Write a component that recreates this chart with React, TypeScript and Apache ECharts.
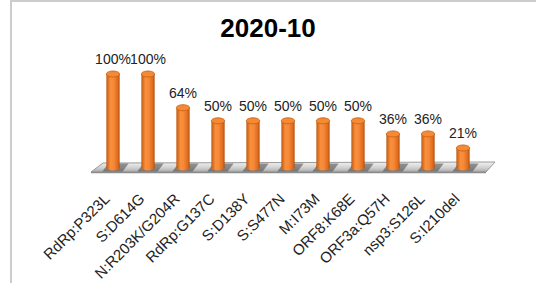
import React, { useEffect, useRef } from "react";
import * as echarts from "echarts";

const titleText = "2020-10";
const categories = [
  "RdRp:P323L",
  "S:D614G",
  "N:R203K/G204R",
  "RdRp:G137C",
  "S:D138Y",
  "S:S477N",
  "M:I73M",
  "ORF8:K68E",
  "ORF3a:Q57H",
  "nsp3:S126L",
  "S:I210del",
];
const values = [100, 100, 64, 50, 50, 50, 50, 50, 36, 36, 21];

const FONT = "'Liberation Sans', Arial, sans-serif";

export default function App() {
  const ref = useRef<HTMLDivElement>(null);
  useEffect(() => {
    if (!ref.current) return;
    const chart = echarts.init(ref.current, null, { renderer: "svg" });
    const bodyFill = {
      type: "linear",
      x: 0,
      y: 0,
      x2: 1,
      y2: 0,
      colorStops: [
        { offset: 0, color: "#c05a12" },
        { offset: 0.3, color: "#f88f3c" },
        { offset: 0.55, color: "#f7893a" },
        { offset: 0.85, color: "#de6c1d" },
        { offset: 1, color: "#b4500e" },
      ],
    };
    chart.setOption({
      animation: false,
      backgroundColor: "#ffffff",
      title: {
        text: titleText,
        left: "center",
        top: 10,
        textStyle: { fontSize: 26, fontWeight: "bold", color: "#000", fontFamily: FONT },
      },
      grid: { left: 95.5, right: 55.5, top: 74, bottom: 115 },
      xAxis: {
        type: "category",
        data: categories,
        axisLine: { show: false },
        axisTick: { show: false },
        splitLine: { show: false },
        axisLabel: {
          interval: 0,
          rotate: 45,
          margin: 22,
          fontSize: 15,
          color: "#222",
          fontFamily: FONT,
          padding: [0, 9, 0, 0],
        },
      },
      yAxis: { type: "value", min: 0, max: 100, show: false },
      graphic: [
        {
          type: "polygon",
          z: 1,
          shape: { points: [[91, 172], [103, 163], [495, 162], [486, 172]] },
          style: {
            fill: {
              type: "linear",
              x: 0,
              y: 0,
              x2: 0,
              y2: 1,
              colorStops: [
                { offset: 0, color: "#f2f2f2" },
                { offset: 0.6, color: "#cfcfcf" },
                { offset: 1, color: "#a8a8a8" },
              ],
            },
            stroke: "#9a9a9a",
            lineWidth: 1,
          },
        },
        {
          type: "line",
          z: 1,
          shape: { x1: 91, y1: 172.5, x2: 486, y2: 172.5 },
          style: { stroke: "#8c8c8c", lineWidth: 1.5 },
        },
        {
          type: "line",
          z: 1,
          shape: { x1: 11, y1: 0, x2: 11, y2: 283 },
          style: { stroke: "#cccccc", lineWidth: 2 },
        },
        {
          type: "line",
          z: 1,
          shape: { x1: 11, y1: 1, x2: 536, y2: 1 },
          style: { stroke: "#cccccc", lineWidth: 2 },
        },
      ],
      series: [
        {
          type: "custom",
          z: 3,
          data: values.map((v, i) => [i, v]),
          encode: { x: 0, y: 1 },
          renderItem: (params: any, api: any) => {
            const idx = api.value(0);
            const v = api.value(1);
            const top = api.coord([idx, v]);
            const base = api.coord([idx, 0]);
            const w = api.size([1, 0])[0] * 0.38;
            const rx = w / 2;
            const ry = 3;
            return {
              type: "group",
              children: [
                {
                  type: "polygon",
                  shape: {
                    points: [
                      [base[0] - rx - 4, base[1] + 4],
                      [base[0] - rx + 2, base[1] - 4],
                      [base[0] + rx + 9, base[1] - 4],
                      [base[0] + rx + 3, base[1] + 4],
                    ],
                  },
                  style: { fill: "rgba(70,70,70,0.55)" },
                },
                {
                  type: "ellipse",
                  shape: { cx: base[0], cy: base[1], rx, ry },
                  style: { fill: bodyFill },
                },
                {
                  type: "rect",
                  shape: { x: top[0] - rx, y: top[1], width: w, height: base[1] - top[1] },
                  style: { fill: bodyFill },
                },
                {
                  type: "ellipse",
                  shape: { cx: top[0], cy: top[1], rx, ry },
                  style: { fill: "#f58a35", stroke: "#c45c12", lineWidth: 0.8 },
                },
              ],
            };
          },
        },
        {
          type: "bar",
          data: values,
          barWidth: 10,
          z: 4,
          itemStyle: { color: "rgba(0,0,0,0)" },
          label: {
            show: true,
            position: "top",
            distance: 8,
            formatter: "{c}%",
            fontSize: 14,
            color: "#222",
            fontFamily: FONT,
          },
        },
      ],
    });
    return () => chart.dispose();
  }, []);
  return (
    <div
      ref={ref}
      style={{ position: "fixed", left: 0, top: 0, width: 536, height: 283 }}
    />
  );
}
